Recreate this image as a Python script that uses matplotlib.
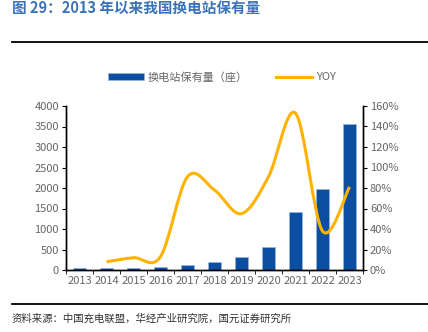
import numpy as np
import matplotlib.pyplot as plt
from matplotlib.path import Path
from matplotlib.patches import PathPatch
from matplotlib.lines import Line2D
from matplotlib.patches import Patch

plt.rcParams['font.family'] = ['Noto Sans CJK SC', 'DejaVu Sans']

# 数据
years = ['2013', '2014', '2015', '2016', '2017', '2018', '2019', '2020', '2021', '2022', '2023']
stations = [40, 45, 55, 65, 120, 200, 306, 555, 1410, 1973, 3567]
yoy = [None, 8, 12, 13, 91, 78, 55, 91, 153, 38, 81]

bar_color = '#0B4EA2'
line_color = '#FFB300'
tick_color = '#666666'

fig = plt.figure(figsize=(4.28, 3.32), dpi=100)
W, H = 428, 332
ax = fig.add_axes([66 / W, 1 - 270 / H, (363 - 66) / W, (270 - 106) / H])
ax2 = ax.twinx()

x = np.arange(len(years))
ax.bar(x, stations, width=0.45, color=bar_color, edgecolor='#9BB8DE', linewidth=0.4, zorder=2)
ax.set_xlim(-0.5, len(years) - 0.5)
ax.set_ylim(0, 4000)
ax.set_yticks(range(0, 4001, 500))
ax.set_xticks(x)
ax.set_xticklabels(years)
ax.set_xticks(np.arange(-0.5, len(years)), minor=True)
ax.tick_params(axis='x', which='major', length=0, colors=tick_color, labelsize=8, pad=4)
ax.tick_params(axis='x', which='minor', length=3, direction='out', color='black')
ax.tick_params(axis='y', length=3, direction='out', colors=tick_color, labelsize=8, pad=2)
ax.tick_params(axis='y', color='black')

# 平滑曲线（贝塞尔）
px = [i for i, v in enumerate(yoy) if v is not None]
py = [v for v in yoy if v is not None]
pts = list(zip(px, py))
verts = [pts[0]]
codes = [Path.MOVETO]
for i in range(len(pts) - 1):
    p0 = pts[i - 1] if i > 0 else pts[i]
    p1 = pts[i]
    p2 = pts[i + 1]
    p3 = pts[i + 2] if i + 2 < len(pts) else pts[i + 1]
    c1 = (p1[0] + (p2[0] - p0[0]) / 6, p1[1] + (p2[1] - p0[1]) / 6)
    c2 = (p2[0] - (p3[0] - p1[0]) / 6, p2[1] - (p3[1] - p1[1]) / 6)
    verts += [c1, c2, p2]
    codes += [Path.CURVE4] * 3
ax2.add_patch(PathPatch(Path(verts, codes), facecolor='none', edgecolor=line_color,
                        linewidth=2.2, zorder=3, capstyle='butt'))
ax2.set_ylim(0, 160)
ax2.set_yticks(range(0, 161, 20))
ax2.set_yticklabels([f'{v}%' for v in range(0, 161, 20)])
ax2.tick_params(axis='y', length=3, direction='out', colors=tick_color, labelsize=8, pad=2)
ax2.tick_params(axis='y', color='black')

for a in (ax, ax2):
    a.spines['top'].set_visible(False)
    for s in ('left', 'right', 'bottom'):
        a.spines[s].set_color('black')
        a.spines[s].set_linewidth(1)

# 图例
handles = [Patch(facecolor=bar_color, edgecolor='#9BB8DE', linewidth=0.4),
           Line2D([0], [0], color=line_color, linewidth=2.2)]
fig.legend(handles, ['换电站保有量（座）', 'YOY'], loc='center',
           bbox_to_anchor=(222 / W, 1 - 77 / H), ncol=2, frameon=False,
           fontsize=8, labelcolor=tick_color, handlelength=3.2, handleheight=0.6,
           columnspacing=2.5, handletextpad=0.4)

# 标题与注释
fig.text(12 / W, 1 - 8 / H, '图 29：2013 年以来我国换电站保有量', color='#3B73B9',
         fontsize=10.5, fontweight='bold', ha='left', va='center')
fig.add_artist(Line2D([12 / W, 1], [1 - 42 / H, 1 - 42 / H], color='black', linewidth=1.3))
fig.add_artist(Line2D([12 / W, 1], [1 - 304 / H, 1 - 304 / H], color='black', linewidth=1.3))
fig.text(12 / W, 1 - 318 / H, '资料来源：中国充电联盟，华经产业研究院，国元证券研究所',
         color='#333333', fontsize=7.5, ha='left', va='center')

fig.savefig('out.png', dpi=100)
